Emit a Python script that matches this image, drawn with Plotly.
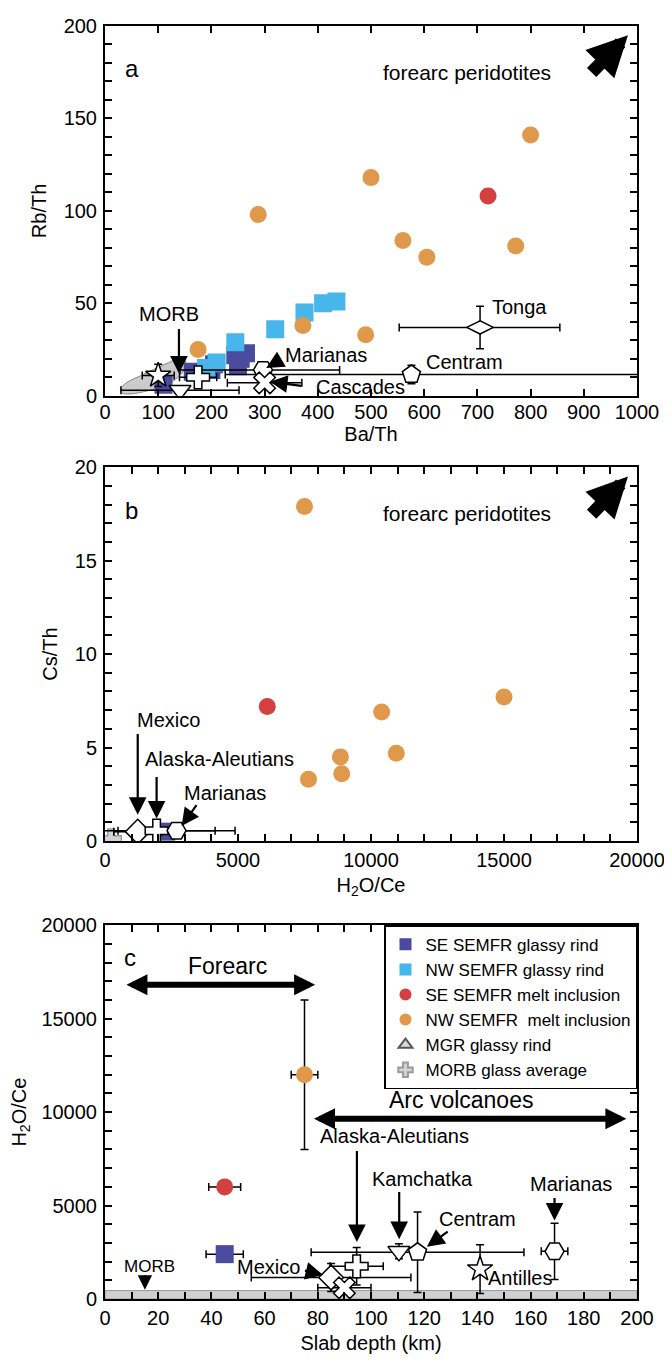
import plotly.graph_objects as go

FONT = "Liberation Sans, Arial, sans-serif"

# ---------------- Panel a : Rb/Th vs Ba/Th ----------------
a_se_rind_x = [110, 165, 200, 205, 245, 255, 265, 250]
a_se_rind_y = [6, 13, 14, 17, 22, 20, 23, 16]
a_nw_rind_x = [190, 210, 245, 320, 375, 410, 435]
a_nw_rind_y = [15, 18, 29, 36, 45, 50, 51]
a_se_mi_x = [720]
a_se_mi_y = [108]
a_nw_mi_x = [175, 288, 372, 500, 490, 560, 605, 772, 800]
a_nw_mi_y = [25, 98, 38, 118, 33, 84, 75, 81, 141]
morb_field_x = [29, 40, 72, 116, 144, 152, 144, 116, 84, 47, 32, 29]
morb_field_y = [3.5, 7, 11.5, 17.5, 20.5, 18, 12, 6, 3, 1, 1.5, 3.5]
a_arc_names = ["Antilles", "Kamchatka", "Alaska-Aleutians", "Marianas", "Cascades", "Centram", "Tonga"]
a_arc_x = [100, 141, 175, 297, 300, 576, 705]
a_arc_y = [11, 3, 10, 14, 7, 11.5, 37]
a_arc_xerr_plus = [30, 111, 35, 144, 70, 430, 150]
a_arc_xerr_minus = [30, 111, 35, 156, 70, 350, 152]
a_arc_yerr = [6, 0, 4, 4, 3, 5, 11.5]

# ---------------- Panel b : Cs/Th vs H2O/Ce ----------------
b_se_rind_x = [2300]
b_se_rind_y = [0.5]
b_se_mi_x = [6100]
b_se_mi_y = [7.2]
b_nw_mi_x = [7500, 7650, 8850, 8900, 10400, 10950, 15000]
b_nw_mi_y = [17.9, 3.3, 4.5, 3.6, 6.9, 4.7, 7.7]
b_morb_x = [230]
b_morb_y = [0.1]
b_arc_names = ["Mexico", "Alaska-Aleutians", "Marianas"]
b_arc_x = [1230, 1940, 2690]
b_arc_y = [0.5, 0.55, 0.55]
b_arc_xerr = [900, 2200, 2200]

# ---------------- Panel c : H2O/Ce vs slab depth ----------------
c_se_rind_x = [45]
c_se_rind_y = [2400]
c_se_rind_xerr = [7]
c_se_mi_x = [45]
c_se_mi_y = [6000]
c_se_mi_xerr = [6]
c_nw_mi_x = [75]
c_nw_mi_y = [12000]
c_nw_mi_xerr = [5]
c_nw_mi_yerr = [4000]
c_arc_names = ["Mexico", "Cascades", "Alaska-Aleutians", "Kamchatka", "Centram", "Antilles", "Marianas"]
c_arc_x = [85, 90, 94.6, 110.5, 117.5, 141, 169]
c_arc_y = [1150, 600, 1750, 2550, 2500, 1600, 2550]
c_arc_xerr = [30, 10, 10, 0, 40, 0, 5]
c_arc_yerr = [750, 0, 1000, 400, 2150, 1300, 1500]
morb_band_y = [0, 450]

C_SE_RIND = "#4a4a9e"
C_NW_RIND = "#47b6ea"
C_SE_MI = "#d2403f"
C_NW_MI = "#e0994a"

fig = go.Figure()

def eb(arr, minus=None):
    d = dict(type="data", array=arr, color="black", thickness=1.5, width=4, visible=True)
    if minus is not None:
        d["symmetric"] = False
        d["arrayminus"] = minus
    return d

fig.add_trace(go.Scatter(x=morb_field_x, y=morb_field_y, xaxis="x", yaxis="y", mode="lines",
                         fill="toself", fillcolor="rgba(190,190,190,0.8)",
                         line=dict(color="#888", width=1, shape="spline"), showlegend=False, hoverinfo="skip"))

sq = dict(symbol="square", size=18, line=dict(width=0))
ci = dict(symbol="circle", size=17, line=dict(width=0))

fig.add_trace(go.Scatter(x=a_se_rind_x, y=a_se_rind_y, xaxis="x", yaxis="y", mode="markers",
                         marker=dict(color=C_SE_RIND, **sq), name="SE SEMFR glassy rind", legendrank=1))
fig.add_trace(go.Scatter(x=a_nw_rind_x, y=a_nw_rind_y, xaxis="x", yaxis="y", mode="markers",
                         marker=dict(color=C_NW_RIND, **sq), name="NW SEMFR glassy rind", legendrank=2))
fig.add_trace(go.Scatter(x=a_se_mi_x, y=a_se_mi_y, xaxis="x", yaxis="y", mode="markers",
                         marker=dict(color=C_SE_MI, **ci), name="SE SEMFR melt inclusion", legendrank=3))
fig.add_trace(go.Scatter(x=a_nw_mi_x, y=a_nw_mi_y, xaxis="x", yaxis="y", mode="markers",
                         marker=dict(color=C_NW_MI, **ci), name="NW SEMFR  melt inclusion", legendrank=4))
fig.add_trace(go.Scatter(x=[None], y=[None], xaxis="x3", yaxis="y3", mode="markers",
                         marker=dict(symbol="triangle-up", size=16, color="#d9d9d9", line=dict(color="#555", width=1.5)),
                         name="MGR glassy rind", legendrank=5))
fig.add_trace(go.Scatter(x=b_morb_x, y=b_morb_y, xaxis="x2", yaxis="y2", mode="markers",
                         marker=dict(symbol="cross", size=17, color="#d4d4d4", line=dict(color="#9a9a9a", width=1.5)),
                         name="MORB glass average", legendrank=6))

arc_marker = dict(color="white", size=19, line=dict(color="black", width=1.5))

fig.add_trace(go.Scatter(x=a_arc_x, y=a_arc_y, xaxis="x", yaxis="y", mode="markers", text=a_arc_names,
                         marker=dict(symbol=["star", "triangle-down", "cross", "hexagon2", "x", "pentagon", "diamond-wide"], **arc_marker),
                         error_x=eb(a_arc_xerr_plus, a_arc_xerr_minus), error_y=eb(a_arc_yerr), showlegend=False))

fig.add_trace(go.Scatter(x=b_se_rind_x, y=b_se_rind_y, xaxis="x2", yaxis="y2", mode="markers",
                         marker=dict(color=C_SE_RIND, **sq), showlegend=False))
fig.add_trace(go.Scatter(x=b_se_mi_x, y=b_se_mi_y, xaxis="x2", yaxis="y2", mode="markers",
                         marker=dict(color=C_SE_MI, **ci), showlegend=False))
fig.add_trace(go.Scatter(x=b_nw_mi_x, y=b_nw_mi_y, xaxis="x2", yaxis="y2", mode="markers",
                         marker=dict(color=C_NW_MI, **ci), showlegend=False))
fig.add_trace(go.Scatter(x=b_arc_x, y=b_arc_y, xaxis="x2", yaxis="y2", mode="markers", text=b_arc_names,
                         marker=dict(symbol=["diamond", "cross", "hexagon2"], **arc_marker),
                         error_x=eb(b_arc_xerr), showlegend=False))

fig.add_trace(go.Scatter(x=c_se_rind_x, y=c_se_rind_y, xaxis="x3", yaxis="y3", mode="markers",
                         marker=dict(color=C_SE_RIND, **sq), error_x=eb(c_se_rind_xerr), showlegend=False))
fig.add_trace(go.Scatter(x=c_se_mi_x, y=c_se_mi_y, xaxis="x3", yaxis="y3", mode="markers",
                         marker=dict(color=C_SE_MI, **ci), error_x=eb(c_se_mi_xerr), showlegend=False))
fig.add_trace(go.Scatter(x=c_nw_mi_x, y=c_nw_mi_y, xaxis="x3", yaxis="y3", mode="markers",
                         marker=dict(color=C_NW_MI, **ci), error_x=eb(c_nw_mi_xerr), error_y=eb(c_nw_mi_yerr), showlegend=False))
fig.add_trace(go.Scatter(x=c_arc_x, y=c_arc_y, xaxis="x3", yaxis="y3", mode="markers", text=c_arc_names,
                         marker=dict(symbol=["diamond", "x", "cross", "triangle-down", "pentagon", "star", "hexagon2"], **arc_marker),
                         error_x=eb(c_arc_xerr), error_y=eb(c_arc_yerr), showlegend=False))

def axis(rng, dtick, minor, title, domain=None, anchor=None, is_y=False, standoff=None, lblstand=None):
    d = dict(range=rng, dtick=dtick, tick0=0, ticks="inside", ticklen=7, tickwidth=1.5, tickcolor="black",
             showline=True, linecolor="black", linewidth=2, mirror="allticks", showgrid=False, zeroline=False,
             tickformat="d", tickfont=dict(size=20, color="black", family=FONT),
             ticklabelstandoff=lblstand if lblstand is not None else (2 if is_y else 0),
             title=dict(text=title, font=dict(size=20, color="black", family=FONT),
                        standoff=standoff if standoff is not None else (12 if is_y else 8)))
    if minor:
        d["minor"] = dict(dtick=minor, ticks="inside", ticklen=7, tickwidth=1.5, tickcolor="black", showgrid=False)
    if domain is not None:
        d["domain"] = domain
    if anchor is not None:
        d["anchor"] = anchor
    return d

W, H = 664, 1357
T, B = 7, 66
PH = H - T - B
def dom(top_px, bot_px):
    return [round(1 - (bot_px - T) / PH, 4), round(1 - (top_px - T) / PH, 4)]
DA = dom(7, 380)
DB = dom(452, 829)
DC = dom(914, 1291)

fig.update_layout(
    width=W, height=H,
    margin=dict(l=97, r=32, t=T, b=B),
    paper_bgcolor="white", plot_bgcolor="white",
    font=dict(family=FONT, color="black"),
    xaxis=axis([0, 1000], 100, None, "Ba/Th", anchor="y", standoff=0, lblstand=-3),
    yaxis=axis([0, 200], 50, 10, "Rb/Th", domain=DA, anchor="x", is_y=True),
    xaxis2=axis([0, 20000], 5000, 1000, "H<sub>2</sub>O/Ce", anchor="y2"),
    yaxis2=axis([0, 20], 5, 1, "Cs/Th", domain=DB, anchor="x2", is_y=True),
    xaxis3=axis([0, 200], 20, 10, "Slab depth (km)", anchor="y3"),
    yaxis3=axis([0, 20000], 5000, 1000, "H<sub>2</sub>O/Ce", domain=DC, anchor="x3", is_y=True),
    legend=dict(x=1, xanchor="right", y=DC[1], yanchor="top", bgcolor="white", bordercolor="black",
                borderwidth=1.5, font=dict(size=17, family=FONT, color="black"), tracegroupgap=0,
                itemsizing="constant", itemwidth=30),
    showlegend=True,
)

fig.add_shape(type="rect", xref="x3", yref="y3", x0=0, x1=200, y0=morb_band_y[0], y1=morb_band_y[1],
              fillcolor="#d0d0d0", line=dict(color="#9a9a9a", width=1), layer="below")

ann = []

def refs(ax_):
    return ("x", "y") if ax_ == 1 else ("x%d" % ax_, "y%d" % ax_)

def txt(ax_, x, y, s, size=20, xanchor="center"):
    xr, yr = refs(ax_)
    ann.append(dict(xref=xr, yref=yr, x=x, y=y, text=s, showarrow=False, xanchor=xanchor,
                    font=dict(size=size, color="black", family=FONT)))

def arrow(ax_, x0, y0, x1, y1, w=2.2, size=1.6, both=False, head=2):
    xr, yr = refs(ax_)
    d = dict(xref=xr, yref=yr, axref=xr, ayref=yr, x=x1, y=y1, ax=x0, ay=y0, text="",
             showarrow=True, arrowhead=head, arrowwidth=w, arrowsize=size, arrowcolor="black")
    if both:
        d["arrowside"] = "end+start"
        d["startarrowhead"] = head
        d["startarrowsize"] = size
    ann.append(d)

# panel a
txt(1, 50, 177, "a", 24)
txt(1, 681, 175, "forearc peridotites", 21)
arrow(1, 912, 174, 983, 195, w=13, size=0.62)
txt(1, 121, 44, "MORB")
arrow(1, 139, 37, 139, 12)
txt(1, 416, 22, "Marianas")
arrow(1, 333, 20, 303, 15)
txt(1, 480, 4.5, "Cascades")
arrow(1, 372, 5.3, 310, 7.6)
txt(1, 780, 48, "Tonga")
txt(1, 675, 18.5, "Centram")

# panel b
txt(2, 1000, 17.7, "b", 24)
txt(2, 13600, 17.5, "forearc peridotites", 21)
arrow(2, 18240, 17.4, 19660, 19.5, w=13, size=0.62)
txt(2, 2400, 6.5, "Mexico")
arrow(2, 1230, 5.8, 1230, 1.4)
txt(2, 4300, 4.4, "Alaska-Aleutians")
arrow(2, 1940, 3.5, 1940, 1.2)
txt(2, 4500, 2.55, "Marianas")
arrow(2, 3480, 2.0, 2880, 0.8)

# panel c
txt(3, 9.5, 18260, "c", 24)
txt(3, 46, 17830, "Forearc", 23)
arrow(3, 7.5, 16820, 79, 16820, w=6, size=0.7, both=True)
txt(3, 134, 10650, "Arc volcanoes", 23)
arrow(3, 78, 9650, 196, 9650, w=6, size=0.7, both=True)
txt(3, 109, 8700, "Alaska-Aleutians")
arrow(3, 94.7, 8000, 94.7, 3050)
txt(3, 119.5, 6400, "Kamchatka")
arrow(3, 110.6, 5800, 110.6, 3200)
txt(3, 140, 4300, "Centram")
arrow(3, 129.4, 3660, 121, 2800)
txt(3, 175, 6150, "Marianas")
arrow(3, 169, 5480, 169, 4200)
txt(3, 156, 1100, "Antilles")
txt(3, 61.6, 1700, "Mexico")
arrow(3, 74.6, 1540, 82, 1280)
txt(3, 16.7, 1750, "MORB", 17)
arrow(3, 15, 1350, 15, 500, size=1.3)

fig.update_layout(annotations=ann)

fig.write_html("out.html")
